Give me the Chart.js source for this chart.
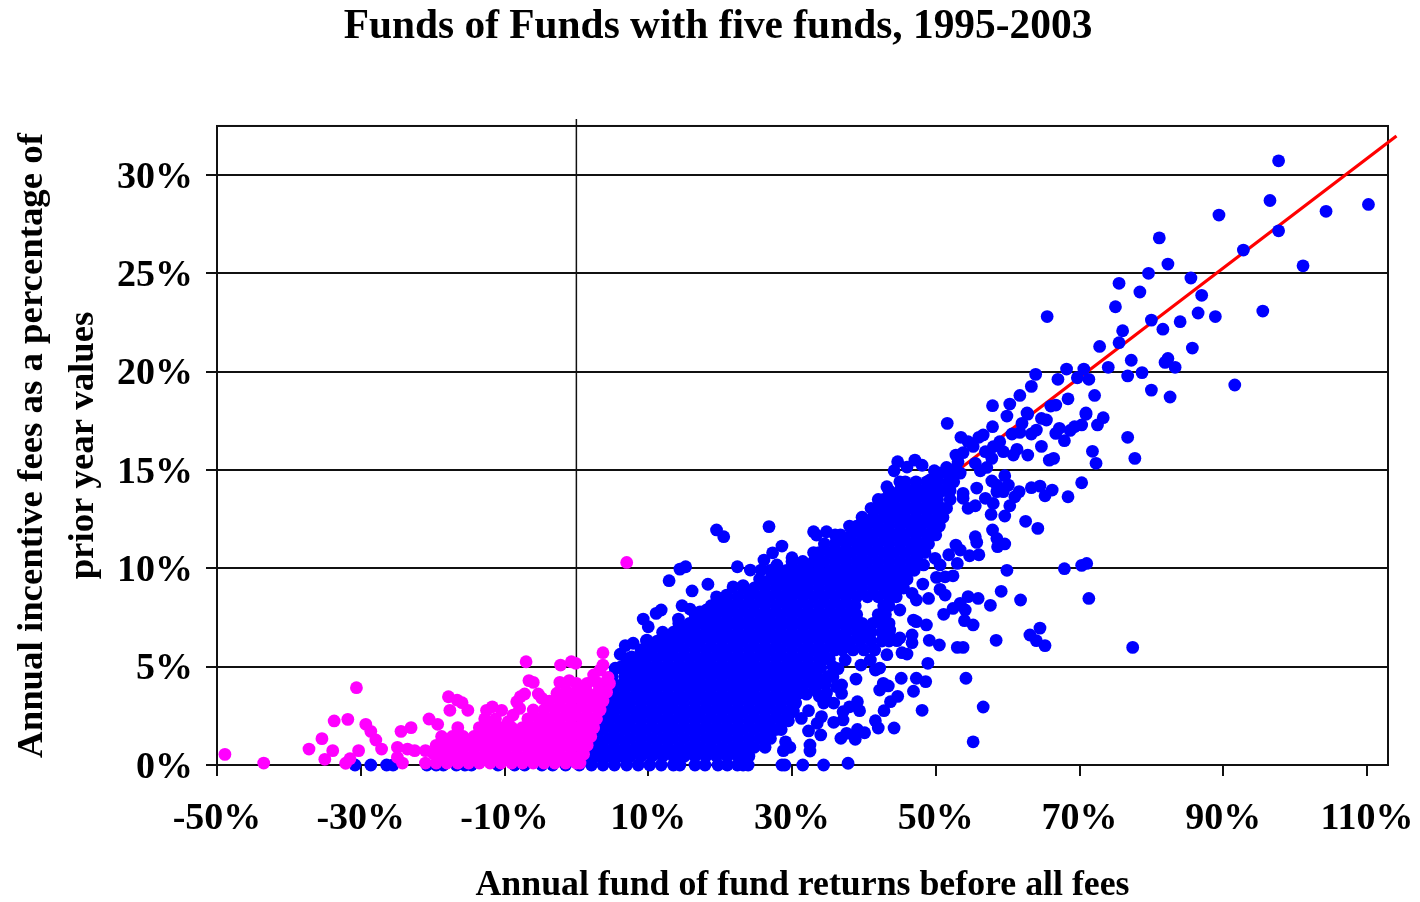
<!DOCTYPE html>
<html>
<head>
<meta charset="utf-8">
<title>Funds of Funds with five funds, 1995-2003</title>
<script src="https://cdn.jsdelivr.net/npm/chart.js@4/dist/chart.umd.min.js"></script>
<style>
body { margin: 0; background: #fff; }
canvas { display: block; }
</style>
</head>
<body>
<canvas id="myChart" width="1420" height="902"></canvas>
<script>
var xTicks = [-50, -30, -10, 10, 30, 50, 70, 90, 110];
var yTicks = [0, 5, 10, 15, 20, 25, 30];

var trendX = [0, 114.1];
var trendY = [0.2, 31.98];
var zeroLineX = [0, 0];
var zeroLineY = [0, 32.84];

// points that can be read one by one
var blueOutliers = [
    [97.7,30.72],[96.5,28.7],[89.4,27.96],[104.3,28.15],[110.2,28.5],[97.7,27.16],[92.8,26.18],[81.1,26.8],
    [82.3,25.47],[101.1,25.38],[79.6,25],[85.5,24.76],[75.5,24.49],[78.4,24.05],[87,23.88],[75,23.3],
    [95.5,23.08],[86.5,22.98],[88.9,22.8],[65.5,22.8],[80,22.62],[84,22.54],[81.6,22.16],[76,22.08],
    [75.5,21.47],[72.8,21.28],[85.7,21.2],[77.2,20.58],[82.3,20.67],[81.9,20.47],[83.3,20.22],[74,20.22],
    [78.7,19.95],[76.7,19.78],[70.6,20.13],[68.2,20.13],[63.9,19.86],[67,19.61],[69.7,19.69],[71.3,19.61],
    [63.3,19.25],[91.6,19.32],[80,19.06],[82.6,18.71],[68.4,18.62],[72.1,18.79],[61.7,18.79],[66,18.25],
    [66.7,18.3],[62.7,17.9],[70.9,17.9],[51.6,17.37],[57.9,18.27],[60.3,18.35],[59.9,17.74],[57.9,17.2],
    [62.8,17.84],[62,17.37],[70.9,17.83],[73.3,17.66],[72.5,17.29],[70.3,17.29],[69.3,17.2],[68.7,17.01],
    [76.7,16.66],[71.8,15.95],[77.7,15.59],[72.3,15.34],[66.4,15.59],[65.8,15.5],[67.9,16.49],[64.7,16.2],
    [62.8,15.76],[66.7,16.86],[67.2,17.12],[64,17.03],[63.3,16.83],[61.7,16.91],[60.6,16.83],[61.3,16.05],
    [60.8,15.76],[65.4,17.54],[64.7,17.62],[58.9,16.44],[58,16.18],[56.9,15.93],[57.8,15.59],[59.4,15.93],
    [56.6,16.78],[56,16.66],[53.5,16.66],[54.5,16.44],[55.2,16.2],[53.8,15.88],[52.8,15.76],[53.1,15.42],
    [47.1,15.5],[48.1,15.24],[46,15.15],[44.7,15.42],[44.2,14.96],[49.8,14.96],[51.5,15.13],[52.7,15.07],
    [55.5,15.34],[57.1,15.13],[56.2,14.96],[59.6,14.71],[57.8,14.44],[58.5,14.23],[60.1,14.23],[59.4,13.9],
    [58.5,13.9],[61.6,13.9],[61,13.64],[60.3,13.18],[63.3,14.1],[64.5,14.18],[65.2,13.69],[66.2,13.98],
    [70.3,14.35],[68.4,13.64],[62.5,12.39],[64.2,12.03],[59.6,12.66],[57.7,12.74],[55.7,14.08],[53.8,13.81],
    [53.8,13.56],[56.9,13.56],[58,13.3],[55.5,13.18],[54.5,13.05],[57.9,11.95],[58.5,11.52],[59.6,11.24],
    [58.6,11.1],[55.5,11.61],[55.7,11.32],[56,10.69],[54.7,10.64],[52.8,11.18],[53.4,10.93],[51.8,10.69],
    [53,10.25],[59.9,9.9],[67.9,9.98],[70.3,10.15],[71,10.25],[71.3,8.47],[59.1,8.83],[61.8,8.39],[57.6,8.12],
    [55.9,8.47],[54.5,8.56],[54.1,7.88],[52.4,7.96],[53.4,8.22],[55.2,7.12],[54,7.34],[51.1,7.66],[48.7,7.12],
    [47.3,7.29],[64.5,6.96],[63.1,6.61],[64,6.32],[65.2,6.07],[77.4,5.98],[58.4,6.34],[53.8,5.98],[53,5.98],
    [50.5,6.1],[49.1,6.34],[46.7,6.61],[46.7,6.22],[45,6.46],[44.6,6.32],[45.3,5.71],[46,5.64],[43.2,5.61],
    [48.9,5.17],[45.2,4.41],[47.3,4.41],[48.6,4.24],[54.2,4.41],[42.2,4.93],[48.2,9.2],[50.6,8.93],[51.3,8.64],
    [49,8.47],[47.3,8.39],[46.7,8.73],[52.4,9.62],[51.3,9.57],[50.1,9.54],[50.6,10.17],[49.9,10.51],[48.3,10.17],
    [55.2,1.18],[56.6,2.95],[48.1,2.78],[44.2,1.88],[41.6,2.25],[42,1.88],[42.8,2.76],[43.7,3.22],[44.7,3.49],
    [46.9,3.75],[43.4,4.02],[42.7,4.15],[42.2,3.81],[38.9,4.37],[41.6,4.83],[39.6,5.08],[40.9,5.34],[39.1,3.22],
    [39.4,2.76],[38,2.96],[37.1,2.71],[37.1,2.29],[35.8,2.17],[39.1,1.81],[40.1,1.64],[38.8,1.31],[37.6,1.61],
    [36.8,1.36],[37.8,0.09],[32.5,1.02],[32.5,0.71],[34,1.53],[32.3,1.73],[29.7,0.9],[28.8,0.73],[29.1,1.18],
    [34.1,2.46],[33.5,2.12],[35.8,3.15],[34.4,3.15],[34.8,3.66],[31.3,2.37],[30.2,2.76],[32.3,2.76],[36.9,4.07],
    [36.9,3.64],[33.2,3.81],[19.5,11.95],[20.5,11.61],[26.8,12.12],[33,11.86],[33.4,11.69],[34.8,11.86],
    [28.6,11.13],[27.3,10.79],[26.1,10.42],[30,10.54],[22.4,10.08],[24.2,9.91],[25.7,9.91],[27.9,10.17],
    [14.4,9.96],[15.2,10.08],[12.9,9.37],[18.3,9.19],[16.1,8.85],[21.8,9.06],[23.2,9.12],[24.2,8.81],[20.9,8.64],
    [14.7,8.1],[15.8,7.93],[11.8,7.88],[11.1,7.71],[9.3,7.42],[10,7.03],[18.1,7.88],[17.2,7.79],[19.7,8.22],
    [20.2,7.88],[18.6,7.54],[14.2,7.42],[9.8,6.35],[7.9,6.19],[6.8,6.07],[6.1,5.63],[11.6,6.1],[5.4,4.92],
    [6.3,5],[9.3,5.63],[7.7,5.5],[13.5,6.44],[15.1,6.7],[43.9,13.64],[45,13.81],[43.2,14.15],[47.3,14.08],
    [49.2,14.49],[50.6,14.84],[52,14.66],[53.4,14.84],[42.2,13.47],[42.2,7.54],[45,7.88],[46.9,7.37],[43.6,6.86],
    [40.4,6.52],[36.2,5.93],[37.4,5.34],[35.7,5],[35.7,4.49],[36.2,3.98],[34.8,3.3],
    [39.5,6.3],[41,6.3],[42.5,6.3],[43.5,6.3],[38.5,5.85],[40,5.85],[41.5,5.85],[42.5,6.75],[43.5,6.75],[43.5,7.2],
    [35,4.5],[35.2,5.4],[36.4,4.9],[34.6,4.1],[33.8,3.5]
];

var blueRowY = [0, 0.45, 0.9, 1.35, 1.8, 2.25, 2.7, 3.15, 3.6, 4.05, 4.5, 4.95, 5.4, 5.85, 6.3, 6.75, 7.2, 7.65, 8.1, 8.55, 9, 9.45, 9.9, 10.35, 10.8, 11.25, 11.7, 12.15, 12.6, 13.05, 13.5, 13.95, 14.4];
var blueRowX = [
    [-30.8,-28.6,-26.4,-25.5,-20.8,-19.5,-18.5,-16.7,-15.5,-14.6,-10.9,-8.6,-7.2,-4.8,-3.3,-1.5,0.4,2.1,3.7,5.3,7,8.6,10.2,11.8,13.5,14.4,16.5,17.9,19.7,21,22.4,23.2,23.9,28.6,29,31.5,34.4],
    [1.5,3,4.5,6,7.5,9,10.5,12,13.5,15,16.5,18,19.5,21,22.5,24],
    [0.75,2.25,3.75,5.25,6.75,8.25,9.75,11.25,12.75,14.25,15.75,17.25,18.75,20.25,21.75,23.25,24.75,26.25],
    [1.5,3,4.5,6,7.5,9,10.5,12,13.5,15,16.5,18,19.5,21,22.5,24,25.5,27],
    [2.25,3.75,5.25,6.75,8.25,9.75,11.25,12.75,14.25,15.75,17.25,18.75,20.25,21.75,23.25,24.75,26.25,27.75,28.5],
    [2.2,3,4.5,6,7.5,9,10.5,12,13.5,15,16.5,18,19.5,21,22.5,24,25.5,27,28.5,29.5],
    [3.75,5.25,6.75,8.25,9.75,11.25,12.75,14.25,15.75,17.25,18.75,20.25,21.75,23.25,24.75,26.25,27.75,29.25,30],
    [3.5,4.5,6,7.5,9,10.5,12,13.5,15,16.5,18,19.5,21,22.5,24,25.5,27,28.5,30,30.5],
    [4,5.25,6.75,8.25,9.75,11.25,12.75,14.25,15.75,17.25,18.75,20.25,21.75,23.25,24.75,26.25,27.75,29.25,30.75,32],
    [4.5,6,7.5,9,10.5,12,13.5,15,16.5,18,19.5,21,22.5,24,25.5,27,28.5,30,31.5,33],
    [5,6.75,8.25,9.75,11.25,12.75,14.25,15.75,17.25,18.75,20.25,21.75,23.25,24.75,26.25,27.75,29.25,30.75,32.25,33.5],
    [6,7.5,9,10.5,12,13.5,15,16.5,18,19.5,21,22.5,24,25.5,27,28.5,30,31.5,33,34],
    [7,8.25,9.75,11.25,12.75,14.25,15.75,17.25,18.75,20.25,21.75,23.25,24.75,26.25,27.75,29.25,30.75,32.25,33.75,35],
    [9,10.5,12,13.5,15,16.5,18,19.5,21,22.5,24,25.5,27,28.5,30,31.5,33,34.5,36,37],
    [9.75,11.25,12.75,14.25,15.75,17.25,18.75,20.25,21.75,23.25,24.75,26.25,27.75,29.25,30.75,32.25,33.75,35.25,36.75,38],
    [12,13.5,15,16.5,18,19.5,21,22.5,24,25.5,27,28.5,30,31.5,33,34.5,36,37.5,39,40.5,41],
    [14.25,15.75,17.25,18.75,20.25,21.75,23.25,24.75,26.25,27.75,29.25,30.75,32.25,33.75,35.25,36.75,38.25,39.75,41.25,42.5],
    [16.5,18,19.5,21,22.5,24,25.5,27,28.5,30,31.5,33,34.5,36,37.5,39,42,43],
    [18.75,20.25,21.75,23.25,24.75,26.25,27.75,29.25,30.75,32.25,33.75,35.25,36.75,38.25,38.8,42.75,43.5],
    [19.5,21,22.5,24,25.5,27,28.5,30,31.5,33,34.5,36,37.5,39,40.5,42,43.5,44.5],
    [23.25,24.75,26.25,27.75,29.25,30.75,32.25,33.75,35.25,36.75,38.25,39.75,41.25,42.75,44.25,45.5],
    [25.5,27,28.5,30,31.5,33,34.5,36,37.5,39,40.5,42,43.5,45,46],
    [27,27.75,29.25,30.75,32.25,33.75,35.25,36.75,38.25,39.75,41.25,42.75,44.25,45.75,47],
    [30,31.5,33,34.5,36,37.5,39,40.5,42,43.5,45,46.5,47.5],
    [33,33.75,35.25,36.75,38.25,39.75,41.25,42.75,44.25,45.75,47.25,48.5],
    [34.5,36,37.5,39,40.5,42,43.5,45,46.5,48,49],
    [36,36.75,38.25,39.75,41.25,42.75,44.25,45.75,47.25,48.75,50],
    [38,39,40.5,42,43.5,45,46.5,48,49.5,50.5],
    [39.75,41.25,42.75,44.25,45.75,47.25,48.75,50.25,51],
    [41,42,43.5,45,46.5,48,49.5,51,51.5],
    [42,42.75,44.25,45.75,47.25,48.75,50.25,52],
    [43.5,45,46.5,48,49.5,51,52],
    [45,45.75,47.25,48.75,50.25,51.75,52.5]
];

var pinkOutliers = [
    [-48.9,0.54],[-43.5,0.1],[-30.6,3.93],[-37.2,0.81],[-35.4,1.34],[-33.9,0.73],[-35,0.29],[-33.7,2.24],
    [-31.8,2.32],[-30.3,0.73],[-31.5,0.32],[-32.1,0.09],[-29.3,2.07],[-28.6,1.71],[-27.9,1.27],[-27.1,0.81],
    [-24.4,1.71],[-23,1.9],[-24.9,0.9],[-24.9,0.39],[-24.2,0.1],[-23.5,0.81],[-22.5,0.73],[-21,0.73],[-19.9,0.59],
    [-20.5,2.34],[-19.3,2.07],[-17.8,3.47],[-16.6,3.3],[-15.9,3.17],[-15.1,2.78],[-17.6,2.78],[-12.5,2.78],
    [-11.7,2.96],[-10.4,2.78],[-8.8,2.54],[-9.5,2.2],[-7.9,2.88],[-8.3,3.22],[-7.8,3.47],[-7.2,3.61],[-7,5.25],
    [-6.6,4.29],[-6,4.2],[-5.3,3.61],[-4.8,3.39],[-4.1,3.22],[-2.2,5.08],[-0.7,5.25],[-0.1,5.17],[3.7,5.71],
    [3.7,5.08],[-2.3,4.2],[-1,4.29],[0,4.15],[-2.7,3.65],[-1.3,3.73],[1,3.81],[2.4,4.58],[3.3,4.83],[4.4,4.46],
    [3.1,4.15],[7,10.3]
];

var pinkRowY = [0.1, 0.55, 1, 1.45, 1.9, 2.35, 2.8, 3.25, 3.7, 4.15];
var pinkRowX = [
    [-21,-19.5,-18,-16.5,-15,-13.5,-12,-10.5,-9,-7.5,-6,-4.5,-3,-1.5,0,0.5],
    [-18.75,-17.25,-15.75,-14.25,-12.75,-11.25,-9.75,-8.25,-6.75,-5.25,-3.75,-2.25,-0.75,0.75,1],
    [-19.5,-18,-16.5,-15,-13.5,-12,-10.5,-9,-7.5,-6,-4.5,-3,-1.5,0,1.5],
    [-18.75,-17.25,-15.75,-14.25,-12.75,-11.25,-9.75,-8.25,-6.75,-5.25,-3.75,-2.25,-0.75,0.75,2],
    [-16.5,-13.5,-12,-10.5,-9,-7.5,-6,-4.5,-3,-1.5,0,1.5,2.4],
    [-12.75,-11.25,-6.75,-5.25,-3.75,-2.25,-0.75,0.75,2.25,2.8],
    [-6,-4.5,-3,-1.5,0,1.5,3,3.3],
    [-3.75,-2.25,-0.75,0.75,2.25,3.7],
    [-1.5,0,1.5,3,4.2],
    [1.5,3,4.6]
];

function pairsToPoints(pairs) {
    return pairs.map(function (p) {
        return { x: p[0], y: p[1] };
    });
}

function rowsToPoints(rowY, rowX) {
    var points = [];
    for (var i = 0; i < rowY.length; i++) {
        for (var j = 0; j < rowX[i].length; j++) {
            points.push({ x: rowX[i][j], y: rowY[i] });
        }
    }
    return points;
}

function zipPoints(xs, ys) {
    return xs.map(function (x, i) {
        return { x: x, y: ys[i] };
    });
}

var serif = "'Liberation Serif', 'Times New Roman', serif";

// box round the plot
var plotBorder = {
    id: 'plotBorder',
    beforeDatasetsDraw: function (chart) {
        var a = chart.chartArea;
        var c = chart.ctx;
        c.save();
        c.strokeStyle = '#111';
        c.lineWidth = 2;
        c.strokeRect(a.left, a.top, a.right - a.left, a.bottom - a.top);
        c.restore();
    }
};

var ctx = document.getElementById('myChart').getContext('2d');
var myChart = new Chart(ctx, {
    type: 'scatter',
    plugins: [plotBorder],
    data: {
        datasets: [
            {
                label: 'Losses',
                data: pairsToPoints(pinkOutliers).concat(rowsToPoints(pinkRowY, pinkRowX)),
                backgroundColor: '#ff00ff',
                pointRadius: 6.4,
                pointBorderWidth: 0,
                clip: false,
                order: 0
            },
            {
                label: 'Gains',
                data: pairsToPoints(blueOutliers).concat(rowsToPoints(blueRowY, blueRowX)),
                backgroundColor: '#0000ff',
                pointRadius: 6.4,
                pointBorderWidth: 0,
                clip: false,
                order: 1
            },
            {
                label: 'Trend',
                data: zipPoints(trendX, trendY),
                showLine: true,
                borderColor: '#ff0000',
                borderWidth: 3.2,
                pointRadius: 0,
                clip: false,
                order: 2
            },
            {
                label: 'Zero',
                data: zipPoints(zeroLineX, zeroLineY),
                showLine: true,
                borderColor: '#111',
                borderWidth: 1.5,
                pointRadius: 0,
                clip: false,
                order: 3
            }
        ]
    },
    options: {
        responsive: false,
        animation: false,
        layout: { autoPadding: false, padding: { left: 48, right: 32 } },
        plugins: {
            legend: { display: false },
            tooltip: { enabled: false },
            title: {
                display: true,
                text: 'Funds of Funds with five funds, 1995-2003',
                color: '#000',
                font: { family: serif, size: 41.4, weight: 'bold', lineHeight: 1.2 },
                padding: { top: 2, bottom: 74.3 }
            }
        },
        scales: {
            x: {
                type: 'linear',
                min: -50,
                max: 112.92,
                afterBuildTicks: function (scale) {
                    scale.ticks = xTicks.map(function (v) { return { value: v }; });
                },
                afterFit: function (scale) {
                    scale.height = 137;
                    scale.paddingLeft = 0;
                    scale.paddingRight = 0;
                },
                grid: { drawOnChartArea: false, color: '#111', lineWidth: 2, tickLength: 11 },
                border: { color: '#111', width: 2 },
                ticks: {
                    autoSkip: false,
                    maxRotation: 0,
                    color: '#000',
                    padding: 20,
                    font: { family: serif, size: 38, weight: 'bold' },
                    callback: function (v) { return v + '%'; }
                },
                title: {
                    display: true,
                    text: 'Annual fund of fund returns before all fees',
                    color: '#000',
                    font: { family: serif, size: 35.8, weight: 'bold' },
                    padding: { top: 0, bottom: -5.5 }
                }
            },
            y: {
                type: 'linear',
                min: 0,
                max: 32.49,
                afterBuildTicks: function (scale) {
                    scale.ticks = yTicks.map(function (v) { return { value: v }; });
                },
                afterFit: function (scale) {
                    scale.width = 169;
                    scale.paddingTop = 0;
                    scale.paddingBottom = 0;
                },
                grid: { color: '#111', lineWidth: 2, tickLength: 11 },
                border: { color: '#111', width: 2 },
                ticks: {
                    color: '#000',
                    padding: 13,
                    labelOffset: 3,
                    font: { family: serif, size: 38, weight: 'bold' },
                    callback: function (v) { return v + '%'; }
                },
                title: {
                    display: true,
                    text: ['Annual incentive fees as a percentage of', 'prior year values'],
                    color: '#000',
                    font: { family: serif, size: 36.8, weight: 'bold', lineHeight: 1.4 },
                    padding: { top: -41.75, bottom: 0 }
                }
            }
        }
    }
});
</script>
</body>
</html>
